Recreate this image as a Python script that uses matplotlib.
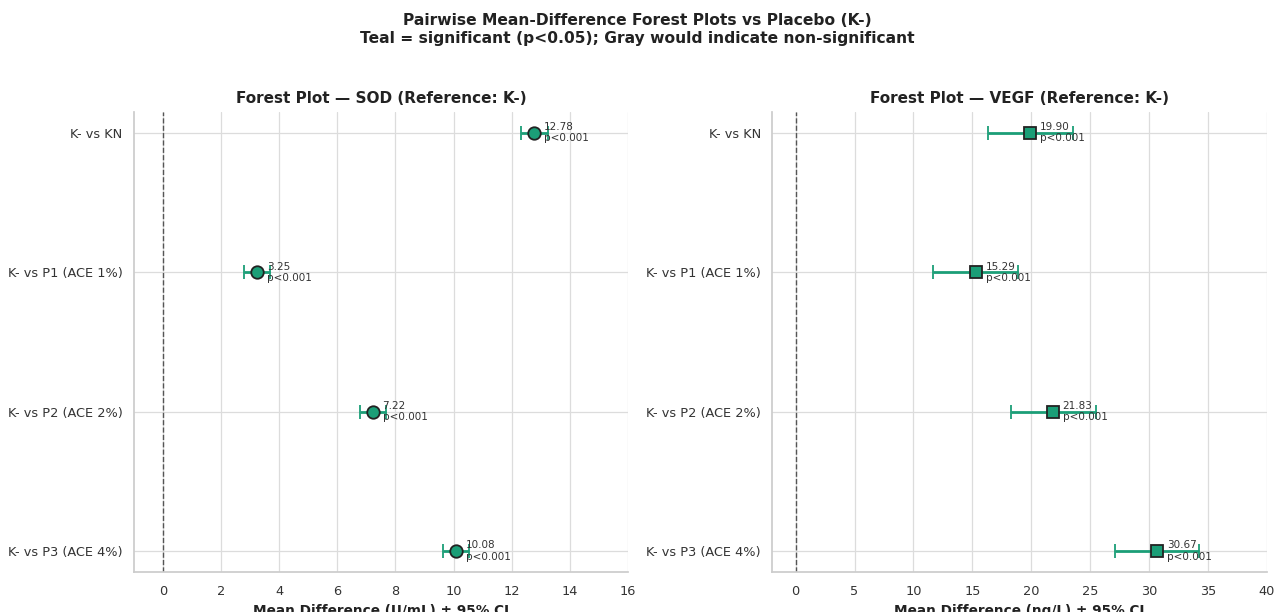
import matplotlib
matplotlib.use("Agg")
import matplotlib.pyplot as plt
import seaborn as sns

sns.set_theme(style="whitegrid")
plt.rcParams['font.family'] = ['DejaVu Sans']

comparisons = ["K- vs KN", "K- vs P1 (ACE 1%)", "K- vs P2 (ACE 2%)", "K- vs P3 (ACE 4%)"]
sod_md = [12.78, 3.25, 7.22, 10.08]
sod_lo = [12.32, 2.79, 6.78, 9.63]
sod_hi = [13.26, 3.69, 7.67, 10.53]
vegf_md = [19.90, 15.29, 21.83, 30.67]
vegf_lo = [16.30, 11.65, 18.25, 27.08]
vegf_hi = [23.50, 18.90, 25.45, 34.25]
pvals = ["p<0.001", "p<0.001", "p<0.001", "p<0.001"]

color = "#1b9e77"

fig = plt.figure(figsize=(12.74, 6.12), dpi=100)
ax1 = fig.add_axes([0.105, 0.0654, 0.388, 0.752])
ax2 = fig.add_axes([0.606, 0.0654, 0.3885, 0.752])

def forest(ax, md, lo, hi, marker, title, xlabel, xlim, xticks):
    ys = list(range(len(comparisons)))
    for y, m, l, h, p in zip(ys, md, lo, hi, pvals):
        ax.errorbar(m, y, xerr=[[m - l], [h - m]], fmt=marker, color=color,
                    ecolor=color, elinewidth=2, capsize=5, capthick=1.5,
                    markersize=9, markeredgecolor="#222222", markeredgewidth=1.3,
                    markerfacecolor=color, zorder=3)
        ax.annotate(f"{m:.2f}\n{p}", xy=(m, y), xytext=(7, 0),
                    textcoords="offset points", va="center", ha="left",
                    fontsize=7.5, color="#333333", linespacing=1.15)
    ax.axvline(0, color="#555555", linestyle="--", linewidth=1)
    ax.grid(True, color="#dcdcdc", linewidth=0.9)
    ax.set_yticks(ys)
    ax.set_yticklabels(comparisons, fontsize=9.3, color="#333333")
    ax.tick_params(axis='y', pad=2)
    ax.set_ylim(len(comparisons) - 1 + 0.15, -0.15)
    ax.set_xlim(*xlim)
    ax.set_xticks(xticks)
    ax.tick_params(axis='x', labelsize=9.3, labelcolor="#333333")
    ax.set_title(title, fontsize=11, fontweight="bold", color="#222222")
    ax.set_xlabel(xlabel, fontsize=9.8, fontweight="bold", color="#222222")
    for s in ["top", "right"]:
        ax.spines[s].set_visible(False)
    for s in ["left", "bottom"]:
        ax.spines[s].set_color("#cccccc")

forest(ax1, sod_md, sod_lo, sod_hi, "o", "Forest Plot — SOD (Reference: K-)",
       "Mean Difference (U/mL) ± 95% CI", (-1, 16), list(range(0, 17, 2)))
forest(ax2, vegf_md, vegf_lo, vegf_hi, "s", "Forest Plot — VEGF (Reference: K-)",
       "Mean Difference (ng/L) ± 95% CI", (-2, 40), list(range(0, 41, 5)))

fig.suptitle("Pairwise Mean-Difference Forest Plots vs Placebo (K-)\n"
             "Teal = significant (p<0.05); Gray would indicate non-significant",
             fontsize=11.2, fontweight="bold", y=0.978, color="#222222")

fig.savefig("out.png", dpi=100)
